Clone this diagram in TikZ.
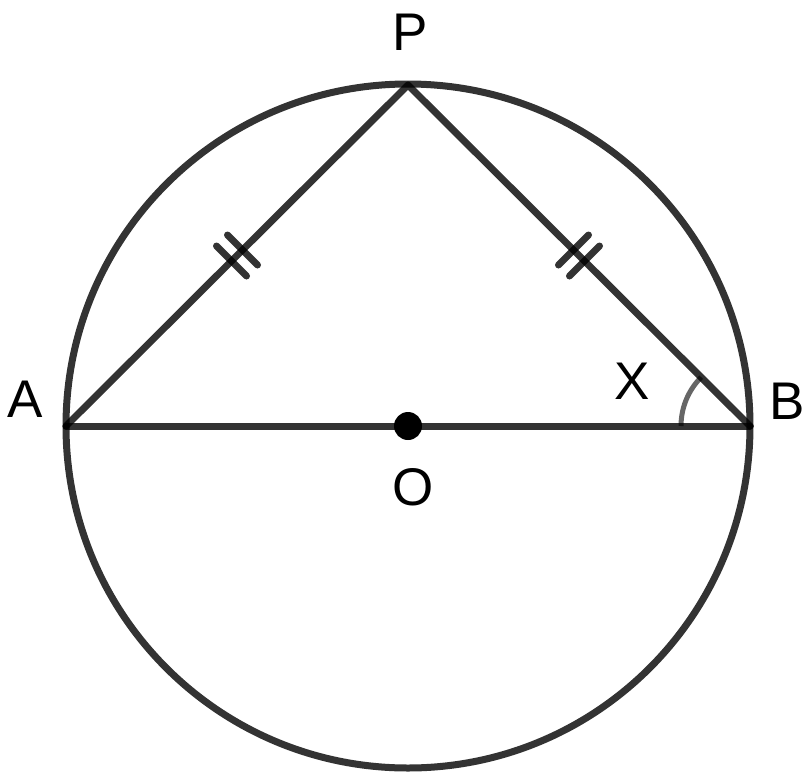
\documentclass[tikz,border=0pt]{standalone}
\usepackage{fontspec}
\setmainfont{Liberation Sans}
\usetikzlibrary{calc}
\begin{document}
\begin{tikzpicture}[x=1pt,y=-1pt,
  geo/.style={draw=black,draw opacity=0.8,line width=7pt,line cap=round,line join=round},
  tick/.style={draw=black,draw opacity=0.8,line width=7pt,line cap=round},
  lbl/.style={font=\fontsize{53}{53}\selectfont,inner sep=0pt}]
\useasboundingbox (0,0) rectangle (806,782);
\coordinate (O) at (408,426);
\coordinate (A) at (66,426);
\coordinate (B) at (750,426);
\coordinate (P) at (408,85);
\draw[geo] (O) circle[radius=342];
\draw[geo] (A) -- (B);
\draw[geo] (A) -- (P) -- (B);
% angle arc at B
\draw[draw=black,draw opacity=0.6,line width=5pt] ([shift={(180:69)}]B) arc[start angle=180,end angle=225,radius=69];
% ticks on AP
\coordinate (m1) at ($(A)!0.5!(P)$);
\draw[tick] ($(m1)+(-5.5,5.5)+(-15,-15)$) -- ($(m1)+(-5.5,5.5)+(15,15)$);
\draw[tick] ($(m1)+(5.5,-5.5)+(-15,-15)$) -- ($(m1)+(5.5,-5.5)+(15,15)$);
\coordinate (m2) at ($(P)!0.5!(B)$);
\draw[tick] ($(m2)+(-5.5,-5.5)+(-15,15)$) -- ($(m2)+(-5.5,-5.5)+(15,-15)$);
\draw[tick] ($(m2)+(5.5,5.5)+(-15,15)$) -- ($(m2)+(5.5,5.5)+(15,-15)$);
\fill[black] (O) circle[radius=14];
\node[lbl] (lP) at (410,32) {P};
\node[lbl] (lA) at (25,399) {A};
\node[lbl] (lB) at (787,401) {B};
\node[lbl] (lX) at (632,381) {X};
\node[lbl] (lO) at (413,487) {O};
\end{tikzpicture}
\end{document}
